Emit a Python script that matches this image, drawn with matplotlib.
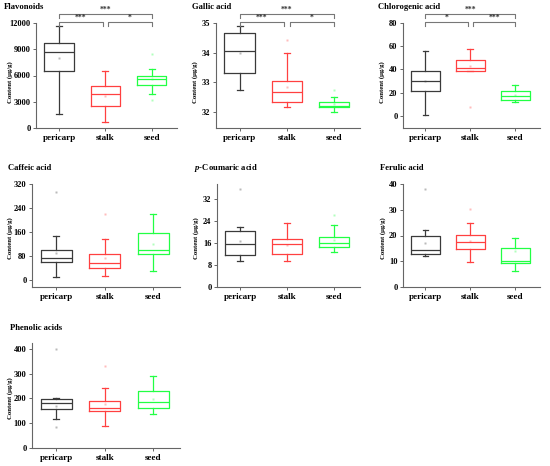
import matplotlib
matplotlib.use("Agg")
import matplotlib.pyplot as plt

plt.rcParams['font.family'] = ['Liberation Serif', 'DejaVu Serif']
plt.rcParams['font.weight'] = 'bold'
plt.rcParams['mathtext.fontset'] = 'custom'
plt.rcParams['mathtext.it'] = 'Liberation Serif:italic:bold'
plt.rcParams['mathtext.rm'] = 'Liberation Serif:bold'

W, H = 550, 466

# Data: whislo, q1, med, q3, whishi, mean, fliers
groups = ['pericarp', 'stalk', 'seed']
colors = ['#3a3a3a', '#ff4040', '#22ff44']

flavonoids = [
    [1650, 6500, 8690, 9730, 11700, 8040, []],
    [690, 2540, 3850, 4770, 6460, 3700, []],
    [3890, 4960, 5620, 6000, 6770, 5600, [8500, 3230]],
]
gallic = [
    [32.75, 33.30, 34.06, 34.65, 34.90, 33.99, []],
    [32.17, 32.34, 32.68, 33.05, 34.00, 32.83, [34.44]],
    [31.99, 32.15, 32.20, 32.34, 32.49, 32.25, [32.74]],
]
chlorogenic = [
    [0.9, 21.1, 30.4, 38.5, 55.9, 30.2, []],
    [38.3, 38.3, 41.5, 47.8, 58.0, 43.0, [7.8]],
    [12.2, 13.9, 17.4, 21.7, 26.7, 18.0, []],
]
caffeic = [
    [11, 59, 72.6, 100, 147, 90, [295]],
    [13, 39, 56, 86, 137, 75, [220]],
    [30, 86, 100, 156, 220, 119, []],
]
coumaric = [
    [9.3, 11.7, 15.6, 20.4, 21.7, 16.8, [35.6]],
    [9.3, 12.1, 15.6, 17.4, 23.4, 15.2, []],
    [12.9, 14.5, 15.9, 18.3, 22.6, 17.0, [26.1]],
]
ferulic = [
    [11.9, 12.9, 14.5, 19.7, 22.3, 17.1, [38.2]],
    [9.7, 14.8, 17.5, 20.3, 24.9, 17.8, [30.4]],
    [6.3, 9.3, 10.2, 15.1, 19.0, 13.8, []],
]
phenolic = [
    [117, 156, 181, 196, 200, 170, [400, 86]],
    [90, 149, 163, 191, 242, 178, [330]],
    [136, 163, 185, 232, 289, 198, []],
]

# significance brackets: (i, j, label, level)
flav_sig = [(0, 1, '***', 0), (1, 2, '*', 0), (0, 2, '***', 1)]
gallic_sig = [(0, 1, '***', 0), (1, 2, '*', 0), (0, 2, '***', 1)]
chloro_sig = [(0, 1, '*', 0), (1, 2, '***', 0), (0, 2, '***', 1)]

panels = [
    # title, data, ylim, yticks, axes px (left, right, top, bottom), title px, ylabel px, sig
    ('Flavonoids', flavonoids, (0, 12000), [0, 3000, 6000, 9000, 12000],
     (36, 177, 23, 128), (4, 7), (10, 82), flav_sig),
    ('Gallic acid', gallic, (31.45, 35), [32, 33, 34, 35],
     (216, 360, 23, 128), (192, 7), (195, 82), gallic_sig),
    ('Chlorogenic acid', chlorogenic, (-10.4, 80), [0, 20, 40, 60, 80],
     (403, 540, 23, 128), (378, 7), (382, 82), chloro_sig),
    ('Caffeic acid', caffeic, (-23, 320), [0, 80, 160, 240, 320],
     (32, 180, 184, 287), (8, 168), (10, 238), []),
    (r'$\mathit{p}$-Coumaric acid', coumaric, (0, 37.5), [0, 8, 16, 24, 32],
     (217, 360, 184, 287), (194, 168), (196, 238), []),
    ('Ferulic acid', ferulic, (0, 40), [0, 10, 20, 30, 40],
     (403, 540, 184, 287), (380, 168), (383, 238), []),
    ('Phenolic acids', phenolic, (0, 424), [0, 100, 200, 300, 400],
     (32, 180, 343, 448), (10, 328), (10, 398), []),
]

fig = plt.figure(figsize=(W / 100, H / 100), dpi=100)

for title, data, ylim, yticks, box, tpos, lpos, sig in panels:
    l, r, t, b = box
    ax = fig.add_axes([l / W, 1 - b / H, (r - l) / W, (b - t) / H])
    stats = []
    for g, d in zip(groups, data):
        stats.append(dict(label=g, whislo=d[0], q1=d[1], med=d[2], q3=d[3],
                          whishi=d[4], mean=d[5], fliers=d[6]))
    for k, (s, c) in enumerate(zip(stats, colors)):
        ax.bxp([s], positions=[k + 1], widths=0.64, capwidths=0.13,
               showmeans=True, showfliers=True,
               boxprops=dict(color=c, linewidth=0.9),
               whiskerprops=dict(color=c, linewidth=0.9),
               capprops=dict(color=c, linewidth=0.9),
               medianprops=dict(color=c, linewidth=0.9),
               meanprops=dict(marker='s', markersize=1.6, markerfacecolor=c,
                              markeredgecolor='none', alpha=0.35),
               flierprops=dict(marker='s', markersize=1.6, markerfacecolor=c,
                               markeredgecolor='none', alpha=0.35))
    ax.set_xlim(0.5, 3.55)
    ax.set_ylim(*ylim)
    ax.set_xticks([1, 2, 3])
    ax.set_xticklabels(groups, fontsize=6.6, fontweight='bold')
    ax.set_yticks(yticks)
    ax.set_yticklabels([str(v) for v in yticks], fontsize=6, fontweight='bold')
    for side in ['top', 'right']:
        ax.spines[side].set_visible(False)
    for side in ['left', 'bottom']:
        ax.spines[side].set_color('#666666')
        ax.spines[side].set_linewidth(0.8)
    ax.tick_params(direction='out', length=2.5, width=0.7, color='#666666', pad=1.5)
    ax.patch.set_alpha(0)

    fig.text(tpos[0] / W, 1 - tpos[1] / H, title, fontsize=6.2,
             fontweight='bold', ha='left', va='center')
    fig.text(lpos[0] / W, 1 - lpos[1] / H, 'Content (μg/g)', fontsize=4.8,
             fontweight='bold', rotation=90, ha='center', va='center')

    # brackets
    tr = ax.get_xaxis_transform()
    hpx = b - t
    for i, j, lab, lev in sig:
        if lev == 1:
            y_line = (b - 14) / hpx
            y_drop = (b - 17.5) / hpx
            x0, x1 = i + 1, j + 1
        else:
            y_line = (b - 22) / hpx
            y_drop = (b - 25.5) / hpx
            x0 = i + 1 + (0.06 if i == 1 else 0)
            x1 = j + 1 - (0.06 if j == 1 else 0)
        ax.plot([x0, x0, x1, x1], [y_drop, y_line, y_line, y_drop],
                color='#777777', linewidth=0.8, transform=tr, clip_on=False)
        ax.text((x0 + x1) / 2, y_line, lab, fontsize=5.5, ha='center',
                va='bottom', transform=tr, color='#333333')

fig.savefig('out.png', dpi=100)
